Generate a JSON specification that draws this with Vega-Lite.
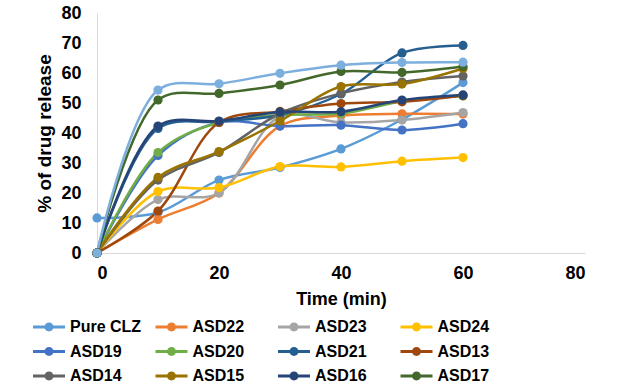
{
  "$schema": "https://vega.github.io/schema/vega-lite/v6.json",
  "width": 488,
  "height": 240,
  "autosize": "none",
  "padding": {"left": 97, "top": 13, "right": 50, "bottom": 137},
  "background": "white",
  "config": {
    "view": {"stroke": null},
    "font": "Liberation Sans",
    "axis": {"grid": false, "ticks": false, "domainColor": "#D9D9D9", "domainWidth": 1, "labelFont": "Liberation Sans", "labelFontSize": 18, "labelFontWeight": "bold", "labelColor": "#000000", "titleFont": "Liberation Sans", "titleFontSize": 18, "titleFontWeight": "bold", "titleColor": "#000000"}
  },
  "data": {"values": [
    {"s": "Pure CLZ", "t": 0, "v": 11.7}, {"s": "Pure CLZ", "t": 10, "v": 13.5}, {"s": "Pure CLZ", "t": 20, "v": 24.3}, {"s": "Pure CLZ", "t": 30, "v": 28.5}, {"s": "Pure CLZ", "t": 40, "v": 34.7}, {"s": "Pure CLZ", "t": 50, "v": 44.5}, {"s": "Pure CLZ", "t": 60, "v": 56.8},
    {"s": "ASD22", "t": 0, "v": 0}, {"s": "ASD22", "t": 10, "v": 11.2}, {"s": "ASD22", "t": 20, "v": 20}, {"s": "ASD22", "t": 30, "v": 42.3}, {"s": "ASD22", "t": 40, "v": 45.8}, {"s": "ASD22", "t": 50, "v": 46.4}, {"s": "ASD22", "t": 60, "v": 46.3},
    {"s": "ASD23", "t": 0, "v": 0}, {"s": "ASD23", "t": 10, "v": 17.8}, {"s": "ASD23", "t": 20, "v": 20}, {"s": "ASD23", "t": 30, "v": 45.5}, {"s": "ASD23", "t": 40, "v": 43.5}, {"s": "ASD23", "t": 50, "v": 44.3}, {"s": "ASD23", "t": 60, "v": 46.8},
    {"s": "ASD24", "t": 0, "v": 0}, {"s": "ASD24", "t": 10, "v": 20.5}, {"s": "ASD24", "t": 20, "v": 21.8}, {"s": "ASD24", "t": 30, "v": 28.8}, {"s": "ASD24", "t": 40, "v": 28.7}, {"s": "ASD24", "t": 50, "v": 30.6}, {"s": "ASD24", "t": 60, "v": 31.8},
    {"s": "ASD19", "t": 0, "v": 0}, {"s": "ASD19", "t": 10, "v": 32.5}, {"s": "ASD19", "t": 20, "v": 43.5}, {"s": "ASD19", "t": 30, "v": 42.3}, {"s": "ASD19", "t": 40, "v": 42.6}, {"s": "ASD19", "t": 50, "v": 41}, {"s": "ASD19", "t": 60, "v": 43.1},
    {"s": "ASD20", "t": 0, "v": 0}, {"s": "ASD20", "t": 10, "v": 33.5}, {"s": "ASD20", "t": 20, "v": 43.5}, {"s": "ASD20", "t": 30, "v": 46}, {"s": "ASD20", "t": 40, "v": 46.5}, {"s": "ASD20", "t": 50, "v": 50.5}, {"s": "ASD20", "t": 60, "v": 52.3},
    {"s": "ASD21", "t": 0, "v": 0}, {"s": "ASD21", "t": 10, "v": 41.5}, {"s": "ASD21", "t": 20, "v": 43.8}, {"s": "ASD21", "t": 30, "v": 46}, {"s": "ASD21", "t": 40, "v": 53}, {"s": "ASD21", "t": 50, "v": 66.7}, {"s": "ASD21", "t": 60, "v": 69.2},
    {"s": "ASD13", "t": 0, "v": 0}, {"s": "ASD13", "t": 10, "v": 14}, {"s": "ASD13", "t": 20, "v": 43.5}, {"s": "ASD13", "t": 30, "v": 47.2}, {"s": "ASD13", "t": 40, "v": 49.8}, {"s": "ASD13", "t": 50, "v": 50.4}, {"s": "ASD13", "t": 60, "v": 52.5},
    {"s": "ASD14", "t": 0, "v": 0}, {"s": "ASD14", "t": 10, "v": 24.3}, {"s": "ASD14", "t": 20, "v": 33.5}, {"s": "ASD14", "t": 30, "v": 46.5}, {"s": "ASD14", "t": 40, "v": 53.2}, {"s": "ASD14", "t": 50, "v": 57}, {"s": "ASD14", "t": 60, "v": 59},
    {"s": "ASD15", "t": 0, "v": 0}, {"s": "ASD15", "t": 10, "v": 25.2}, {"s": "ASD15", "t": 20, "v": 33.8}, {"s": "ASD15", "t": 30, "v": 44}, {"s": "ASD15", "t": 40, "v": 55.5}, {"s": "ASD15", "t": 50, "v": 56.3}, {"s": "ASD15", "t": 60, "v": 61.5},
    {"s": "ASD16", "t": 0, "v": 0}, {"s": "ASD16", "t": 10, "v": 42.3}, {"s": "ASD16", "t": 20, "v": 44}, {"s": "ASD16", "t": 30, "v": 47}, {"s": "ASD16", "t": 40, "v": 47.1}, {"s": "ASD16", "t": 50, "v": 51}, {"s": "ASD16", "t": 60, "v": 52.7},
    {"s": "ASD17", "t": 0, "v": 0}, {"s": "ASD17", "t": 10, "v": 51}, {"s": "ASD17", "t": 20, "v": 53.2}, {"s": "ASD17", "t": 30, "v": 56}, {"s": "ASD17", "t": 40, "v": 60.5}, {"s": "ASD17", "t": 50, "v": 60.2}, {"s": "ASD17", "t": 60, "v": 62.2},
    {"s": "Series13", "t": 0, "v": 0}, {"s": "Series13", "t": 10, "v": 54.3}, {"s": "Series13", "t": 20, "v": 56.4}, {"s": "Series13", "t": 30, "v": 59.9}, {"s": "Series13", "t": 40, "v": 62.6}, {"s": "Series13", "t": 50, "v": 63.5}, {"s": "Series13", "t": 60, "v": 63.6}
  ]},
  "encoding": {
    "x": {"field": "t", "type": "quantitative", "scale": {"domain": [0, 80], "nice": false}, "axis": {"values": [0, 20, 40, 60, 80], "title": "Time (min)", "labelPadding": 11, "titlePadding": 8}},
    "y": {"field": "v", "type": "quantitative", "scale": {"domain": [0, 80], "nice": false}, "axis": {"values": [0, 10, 20, 30, 40, 50, 60, 70, 80], "title": "% of drug release", "labelPadding": 16, "titlePadding": 6, "titleFontSize": 19}},
    "color": {"field": "s", "type": "nominal",
      "scale": {"domain": ["Pure CLZ", "ASD22", "ASD23", "ASD24", "ASD19", "ASD20", "ASD21", "ASD13", "ASD14", "ASD15", "ASD16", "ASD17", "Series13"],
        "range": ["#5B9BD5", "#ED7D31", "#A5A5A5", "#FFC000", "#4472C4", "#70AD47", "#255E91", "#9E480E", "#636363", "#997300", "#264478", "#43682B", "#7CAFDD"]},
      "legend": {"orient": "none", "legendX": -56, "legendY": 306, "columns": 4, "gridAlign": "all", "columnPadding": 13.5, "rowPadding": 8.5, "direction": "horizontal",
        "values": ["Pure CLZ", "ASD22", "ASD23", "ASD24", "ASD19", "ASD20", "ASD21", "ASD13", "ASD14", "ASD15", "ASD16", "ASD17"],
        "title": null, "symbolType": "M-2,-0.18L2,-0.18L2,0.18L-2,0.18ZM0.56,0A0.56,0.56,0,1,1,-0.56,0A0.56,0.56,0,1,1,0.56,0Z", "symbolSize": 256, "symbolStrokeWidth": 0,
        "labelFont": "Liberation Sans", "labelFontSize": 16, "labelFontWeight": "bold", "labelColor": "#000000", "labelOffset": 13,
        "encode": {"symbols": {"update": {"fill": {"scale": "color", "field": "value"}, "stroke": {"value": "transparent"}, "opacity": {"value": 1}}}}}
    }
  },
  "layer": [
    {"mark": {"type": "line", "interpolate": "catmull-rom", "strokeWidth": 2.5}},
    {"mark": {"type": "point", "filled": true, "opacity": 1, "size": 85, "shape": "circle"}}
  ]
}
